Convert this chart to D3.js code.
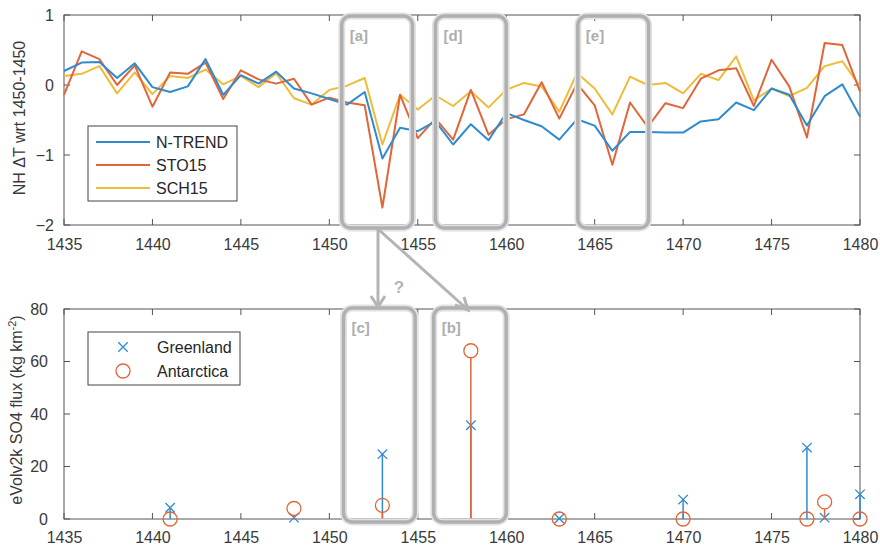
<!DOCTYPE html>
<html>
<head>
<meta charset="utf-8">
<script src="https://cdn.jsdelivr.net/npm/d3@7"></script>
<style>
  body { margin: 0; background: #fff; }
  svg { font-family: 'Liberation Sans', Arial, sans-serif; }
  .axis text { font-size: 16px; fill: #3a3a3a; }
  .axis path, .axis line { stroke: #555; }
  .legendText { font-size: 16px; fill: #262626; }
  .ylabel { font-size: 16px; fill: #3a3a3a; }
  .hl { fill: none; stroke: #b0b0b0; stroke-width: 3.5; }
  .hlText { font-size: 15px; font-weight: bold; fill: #adadad; }
</style>
</head>
<body>
<div id="chart"></div>
<script>
'use strict';

// years on the x axis (one value per year)
const years = d3.range(1435, 1481);

// NH temperature anomaly, wrt 1450-1450
const ntrend = [0.20, 0.32, 0.33, 0.10, 0.31, -0.03, -0.10, -0.02, 0.37, -0.14,
  0.14, 0.02, 0.19, -0.05, -0.12, -0.20, -0.28, -0.10, -1.05, -0.61,
  -0.66, -0.52, -0.85, -0.56, -0.79, -0.40, -0.50, -0.59, -0.78, -0.49,
  -0.58, -0.94, -0.67, -0.67, -0.68, -0.68, -0.52, -0.49, -0.25, -0.36,
  -0.05, -0.14, -0.58, -0.16, 0.01, -0.45];
const sto15 = [-0.14, 0.48, 0.37, 0.00, 0.28, -0.31, 0.18, 0.16, 0.32, -0.20,
  0.21, 0.08, 0.02, 0.09, -0.28, -0.18, -0.25, -0.29, -1.75, -0.14,
  -0.76, -0.48, -0.78, -0.07, -0.71, -0.49, -0.42, 0.04, -0.48, 0.02,
  -0.29, -1.14, -0.25, -0.60, -0.26, -0.33, 0.09, 0.21, 0.24, -0.30,
  0.36, -0.02, -0.75, 0.60, 0.57, -0.09];
const sch15 = [0.13, 0.16, 0.27, -0.12, 0.18, -0.13, 0.13, 0.10, 0.22, 0.01,
  0.13, -0.03, 0.17, -0.19, -0.28, -0.07, -0.01, 0.10, -0.85, -0.14,
  -0.35, -0.15, -0.30, -0.09, -0.32, -0.07, 0.03, -0.02, -0.38, 0.17,
  -0.05, -0.42, 0.12, 0.00, 0.03, -0.12, 0.16, 0.07, 0.41, -0.22,
  -0.05, -0.16, -0.04, 0.27, 0.34, -0.02];

const seriesNames = ['N-TREND', 'STO15', 'SCH15'];
const seriesColors = ['#2f8ad0', '#e2653a', '#eebb3a'];

// eVolv2k SO4 flux (kg km-2)
const eruptionYears = [1441, 1448, 1453, 1458, 1463, 1470, 1477, 1478, 1480];
const greenland = [4.3, 0.5, 24.7, 35.7, 0.2, 7.4, 27.2, 0.5, 9.4];
const antarctica = [0.0, 4.0, 5.2, 64.1, 0.0, 0.0, 0.0, 6.5, 0.0];

// highlighted windows [label, start, end]
const topBoxes = [['[a]', 1450.7, 1454.7], ['[d]', 1456.0, 1460.0], ['[e]', 1464.05, 1468.05]];
const bottomBoxes = [['[c]', 1450.8, 1454.85], ['[b]', 1455.9, 1460.0]];

const W = 880, H = 546;
const L = 64, R = 860;

window.onload = function () {
  const svg = d3.select('#chart').append('svg')
    .attr('width', W)
    .attr('height', H);

  drawTop(svg);
  drawBottom(svg);
  drawArrows(svg);
};

function frame(g, x, y, top, bottom, yTicks, ypad, xpad) {
  // tick labels only, ticks drawn inward below
  g.append('g')
    .attr('class', 'axis')
    .attr('transform', 'translate(0,' + bottom + ')')
    .call(d3.axisBottom(x).tickValues(d3.range(1435, 1481, 5)).tickSize(0).tickPadding(xpad).tickFormat(d3.format('d')))
    .call(a => a.select('.domain').remove());
  g.append('g')
    .attr('class', 'axis')
    .attr('transform', 'translate(' + L + ',0)')
    .call(d3.axisLeft(y).tickValues(yTicks).tickSize(0).tickPadding(ypad).tickFormat(d3.format('d')))
    .call(a => a.select('.domain').remove());

  const t = g.append('g').attr('stroke', '#555').attr('stroke-width', 1);
  d3.range(1435, 1481, 5).forEach(function (v) {
    t.append('line').attr('x1', x(v)).attr('x2', x(v)).attr('y1', bottom).attr('y2', bottom - 6);
    t.append('line').attr('x1', x(v)).attr('x2', x(v)).attr('y1', top).attr('y2', top + 6);
  });
  yTicks.forEach(function (v) {
    t.append('line').attr('x1', L).attr('x2', L + 6).attr('y1', y(v)).attr('y2', y(v));
    t.append('line').attr('x1', R).attr('x2', R - 6).attr('y1', y(v)).attr('y2', y(v));
  });
  g.append('rect')
    .attr('x', L).attr('y', top)
    .attr('width', R - L).attr('height', bottom - top)
    .attr('fill', 'none')
    .attr('stroke', '#555');
}

function drawBoxes(g, x, boxes, top, bottom) {
  boxes.forEach(function (b) {
    g.append('rect')
      .attr('x', x(b[1])).attr('y', top)
      .attr('width', x(b[2]) - x(b[1])).attr('height', bottom - top)
      .attr('rx', 9).attr('ry', 9)
      .attr('fill', 'none')
      .attr('stroke', '#e2e2e2')
      .attr('stroke-width', 7);
    g.append('rect')
      .attr('class', 'hl')
      .attr('x', x(b[1])).attr('y', top)
      .attr('width', x(b[2]) - x(b[1])).attr('height', bottom - top)
      .attr('rx', 9).attr('ry', 9);
    g.append('text')
      .attr('class', 'hlText')
      .attr('x', x(b[1]) + 8)
      .attr('y', top + 25)
      .text(b[0]);
  });
}

function drawTop(svg) {
  const top = 15, bottom = 225;
  const x = d3.scaleLinear().domain([1435, 1480]).range([L, R]);
  const y = d3.scaleLinear().domain([-2, 1]).range([bottom, top]);
  const g = svg.append('g');

  frame(g, x, y, top, bottom, [-2, -1, 0, 1], 10, 14);

  const series = [ntrend, sto15, sch15];
  const line = d3.line()
    .x((d, i) => x(years[i]))
    .y(d => y(d));

  // draw yellow under, then red, then blue like the picture
  [2, 1, 0].forEach(function (k) {
    g.append('path')
      .datum(series[k])
      .attr('d', line)
      .attr('fill', 'none')
      .attr('stroke', seriesColors[k])
      .attr('stroke-width', 2)
      .attr('stroke-linejoin', 'round');
  });

  drawBoxes(g, x, topBoxes, top + 1, bottom + 3);

  // legend
  const lg = g.append('g');
  lg.append('rect')
    .attr('x', 88).attr('y', 126)
    .attr('width', 149).attr('height', 75)
    .attr('fill', '#fff')
    .attr('stroke', '#444');
  seriesNames.forEach(function (name, i) {
    const yy = 142 + i * 23;
    lg.append('line')
      .attr('x1', 96).attr('x2', 150)
      .attr('y1', yy).attr('y2', yy)
      .attr('stroke', seriesColors[i])
      .attr('stroke-width', 2);
    lg.append('text')
      .attr('class', 'legendText')
      .attr('x', 156).attr('y', yy + 6)
      .text(name);
  });

  svg.append('text')
    .attr('class', 'ylabel')
    .attr('transform', 'translate(25,118) rotate(-90)')
    .attr('text-anchor', 'middle')
    .text('NH \u0394T wrt 1450-1450');
}

function drawBottom(svg) {
  const top = 309, bottom = 519;
  const x = d3.scaleLinear().domain([1435, 1480]).range([L, R]);
  const y = d3.scaleLinear().domain([0, 80]).range([bottom, top]);
  const g = svg.append('g');

  frame(g, x, y, top, bottom, [0, 20, 40, 60, 80], 16, 13);

  // Greenland stems and crosses
  const gs = g.append('g');
  eruptionYears.forEach(function (yr, i) {
    gs.append('line')
      .attr('x1', x(yr)).attr('x2', x(yr))
      .attr('y1', y(0)).attr('y2', y(greenland[i]))
      .attr('stroke', seriesColors[0]).attr('stroke-width', 1.5);
    gs.append('path')
      .attr('transform', 'translate(' + x(yr) + ',' + y(greenland[i]) + ')')
      .attr('d', d3.symbol(d3.symbolX, 60)())
      .attr('fill', 'none')
      .attr('stroke', seriesColors[0]).attr('stroke-width', 1.3);
  });

  // Antarctica stems and circles
  const as = g.append('g');
  eruptionYears.forEach(function (yr, i) {
    as.append('line')
      .attr('x1', x(yr)).attr('x2', x(yr))
      .attr('y1', y(0)).attr('y2', y(antarctica[i]) + 7)
      .attr('stroke', seriesColors[1]).attr('stroke-width', 1.5)
      .attr('opacity', antarctica[i] > 3 ? 1 : 0);
    as.append('circle')
      .attr('cx', x(yr)).attr('cy', y(antarctica[i]))
      .attr('r', 7)
      .attr('fill', 'none')
      .attr('stroke', seriesColors[1]).attr('stroke-width', 1.3);
  });

  drawBoxes(g, x, bottomBoxes, top - 1, bottom + 3);

  // legend
  const lg = g.append('g');
  lg.append('rect')
    .attr('x', 88).attr('y', 332)
    .attr('width', 152).attr('height', 53)
    .attr('fill', '#fff')
    .attr('stroke', '#444');
  lg.append('path')
    .attr('transform', 'translate(123,347)')
    .attr('d', d3.symbol(d3.symbolX, 60)())
    .attr('fill', 'none')
    .attr('stroke', seriesColors[0]).attr('stroke-width', 1.3);
  lg.append('circle')
    .attr('cx', 123).attr('cy', 371).attr('r', 7)
    .attr('fill', 'none')
    .attr('stroke', seriesColors[1]).attr('stroke-width', 1.3);
  lg.append('text').attr('class', 'legendText').attr('x', 157).attr('y', 353).text('Greenland');
  lg.append('text').attr('class', 'legendText').attr('x', 157).attr('y', 377).text('Antarctica');

  const yl = svg.append('text')
    .attr('class', 'ylabel')
    .attr('transform', 'translate(22,410) rotate(-90)')
    .attr('text-anchor', 'middle');
  yl.append('tspan').text('eVolv2k SO4 flux (kg km');
  yl.append('tspan').attr('dy', -6).style('font-size', '11px').text('-2');
  yl.append('tspan').attr('dy', 6).text(')');
}

function drawArrows(svg) {
  const g = svg.append('g')
    .attr('stroke', '#b4b4b4')
    .attr('stroke-width', 3)
    .attr('fill', 'none');
  const x0 = 378, y0 = 229;
  // vertical arrow
  g.append('line').attr('x1', x0).attr('y1', y0).attr('x2', x0).attr('y2', 306);
  g.append('path').attr('d', 'M' + (x0 - 7) + ',296 L' + x0 + ',307 L' + (x0 + 7) + ',296');
  // diagonal arrow
  g.append('line').attr('x1', x0).attr('y1', y0).attr('x2', 467).attr('y2', 309);
  g.append('path').attr('d', 'M455,305 L468,310 L464,297');
  svg.append('text')
    .attr('x', 399).attr('y', 293)
    .attr('text-anchor', 'middle')
    .attr('font-size', 17)
    .attr('font-weight', 'bold')
    .attr('fill', '#b4b4b4')
    .text('?');
}
</script>
</body>
</html>
